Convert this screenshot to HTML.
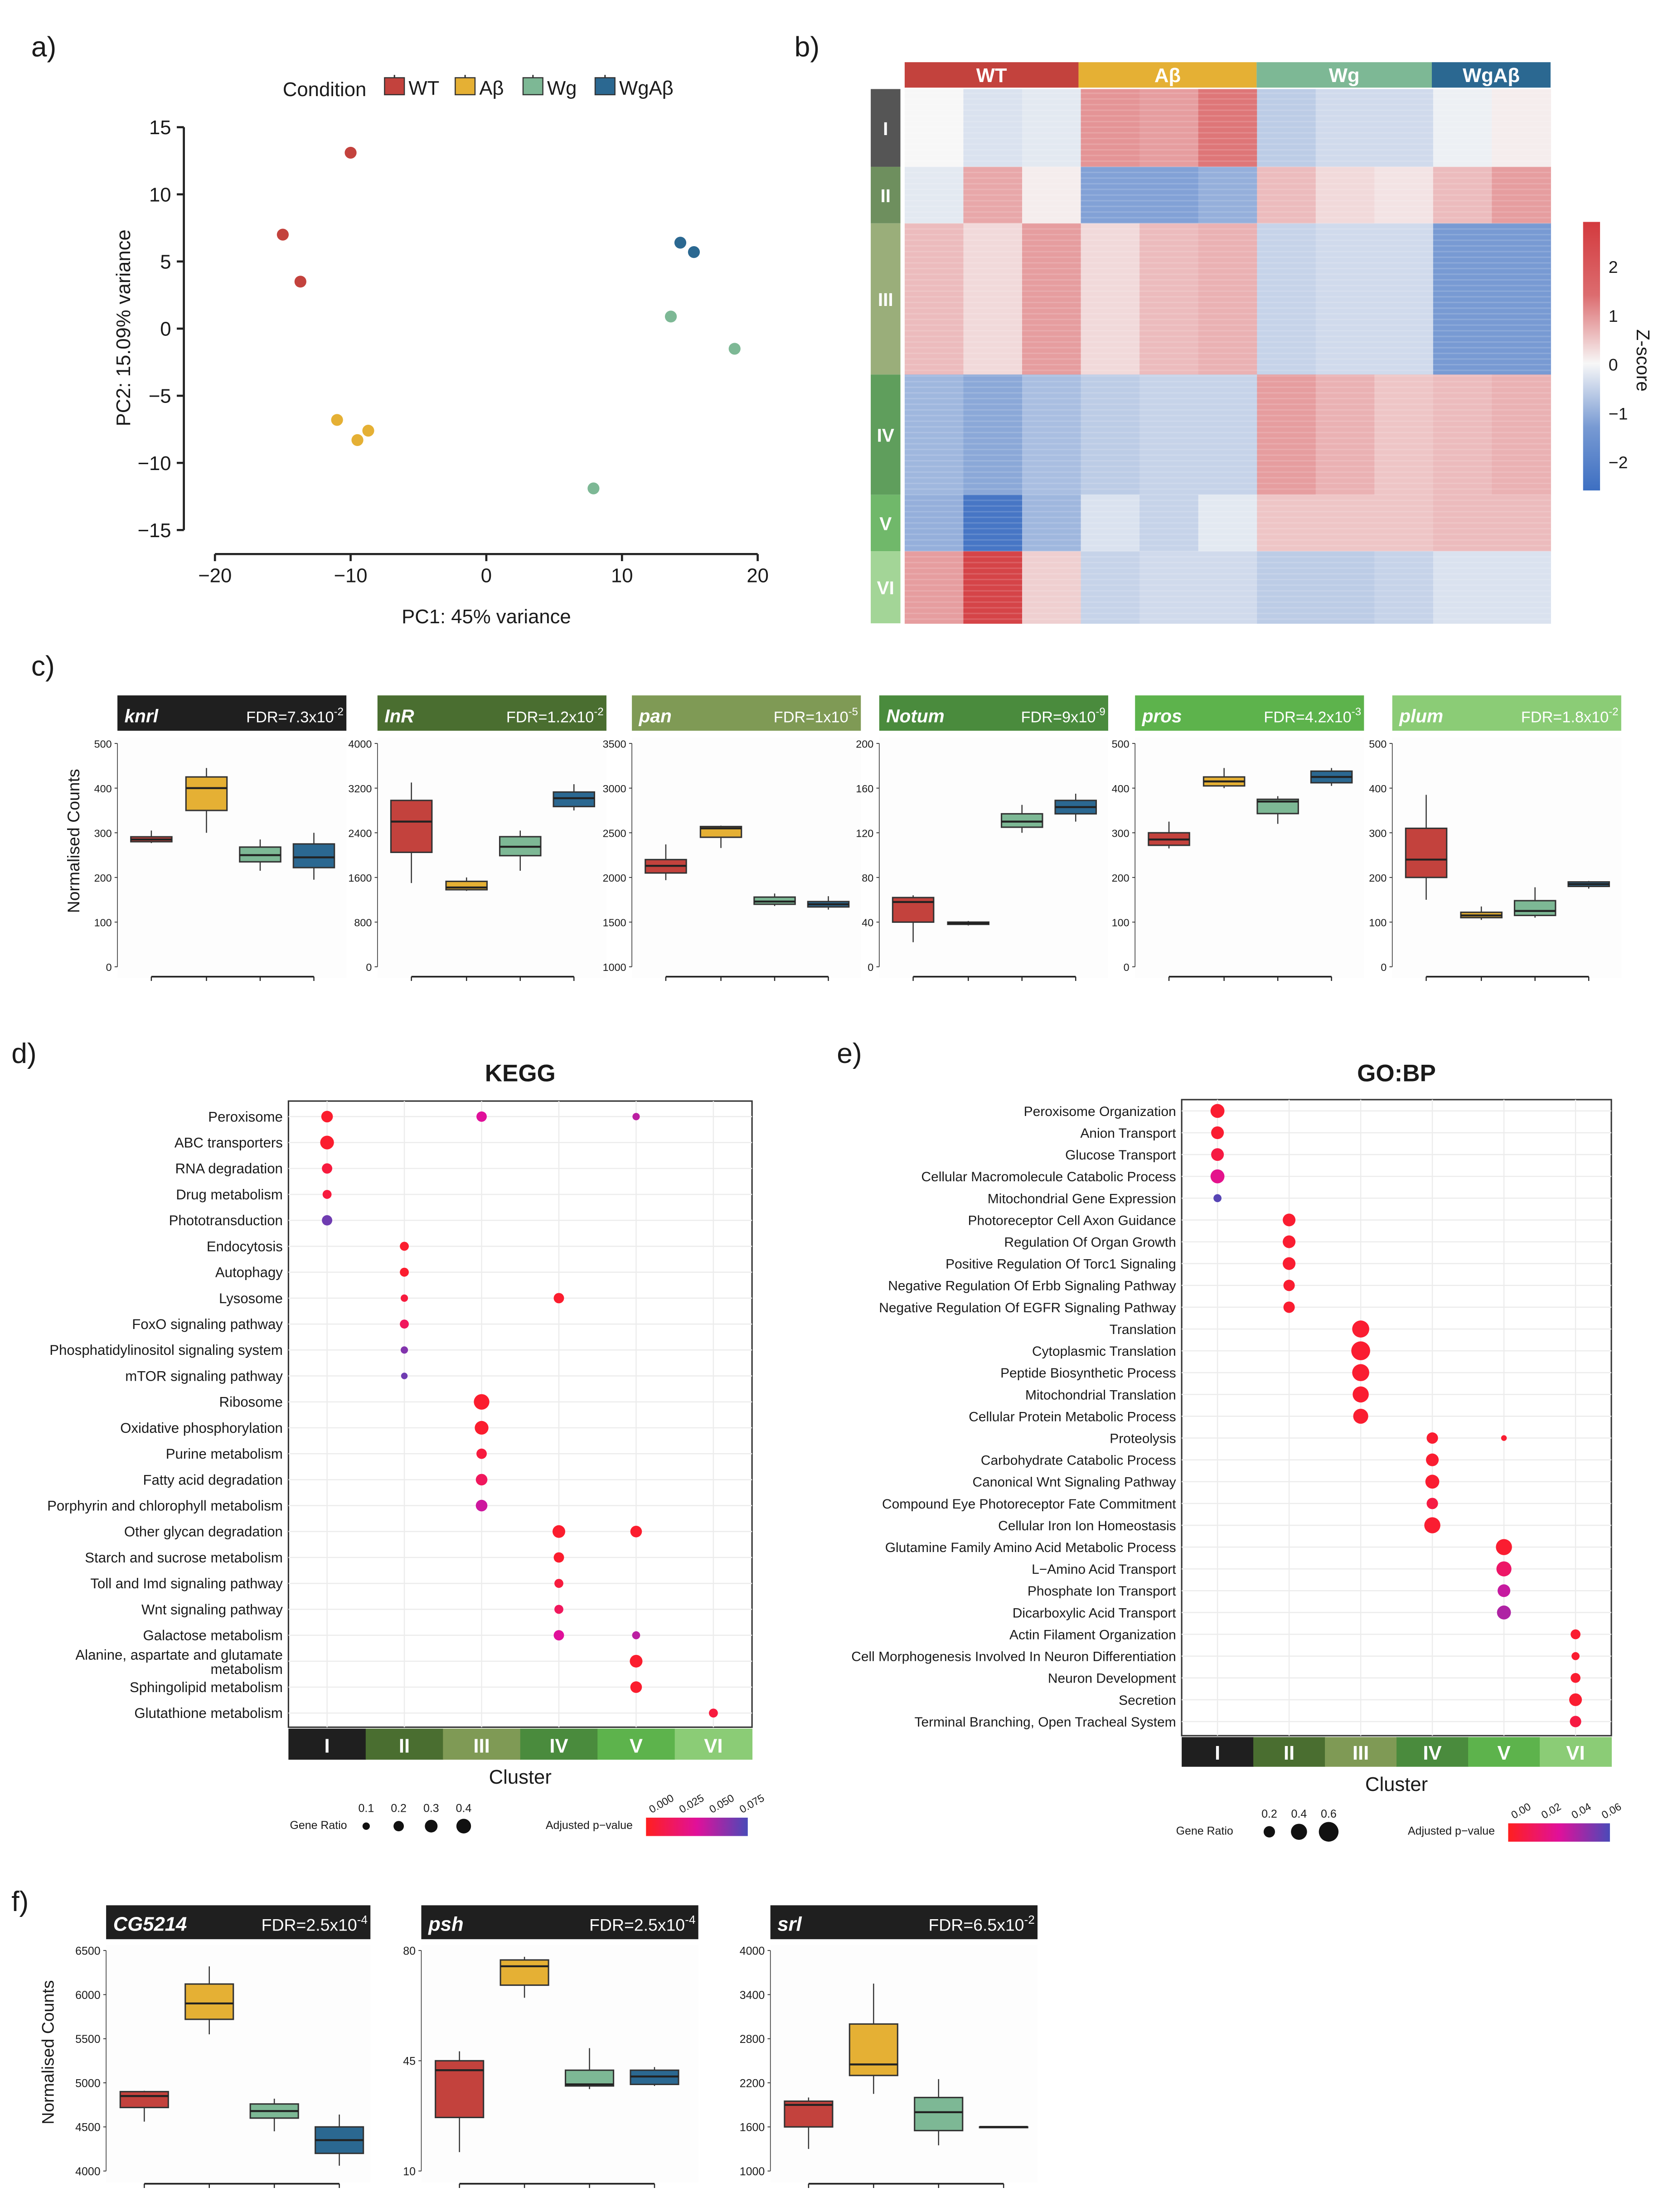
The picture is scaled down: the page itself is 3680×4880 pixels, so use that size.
<!DOCTYPE html>
<html><head><meta charset="utf-8"><style>
html,body{margin:0;padding:0;background:#fff;}
svg{display:block;font-family:"Liberation Sans",Arial,sans-serif;}
</style></head><body>
<svg id="fig" xmlns="http://www.w3.org/2000/svg" width="3680" height="4880" viewBox="0 0 1180 1565"></svg>
<script>
// ---------- DATA ----------
const condNames=["WT","Aβ","Wg","WgAβ"];
const condColors=["#c3423d","#e5b034","#7db895","#2b6891"];
// panel a PCA
const pcaCond=[0,0,0,1,1,1,2,2,2,3,3];
const pcaX=[-10,-15,-13.7,-11,-9.5,-8.7,13.6,18.3,7.9,14.3,15.3];
const pcaY=[13.1,7,3.5,-6.8,-8.3,-7.6,0.9,-1.5,-11.9,6.4,5.7];
const pcaXTicks=[-20,-10,0,10,20];
const pcaYTicks=[15,10,5,0,-5,-10,-15];
// panel b heatmap
const hmClusters=["I","II","III","IV","V","VI"];
const hmColCond=[0,0,0,1,1,1,2,2,2,3,3];
const hmValues=[
[0,-0.3,-0.2,1,0.9,1.3,-0.6,-0.4,-0.4,-0.1,0.1],
[-0.2,0.8,0.1,-1.2,-1.2,-1.0,0.6,0.3,0.2,0.6,0.9],
[0.6,0.3,0.9,0.3,0.6,0.7,-0.5,-0.4,-0.4,-1.3,-1.3],
[-0.9,-1.1,-0.8,-0.6,-0.5,-0.5,0.9,0.7,0.5,0.6,0.7],
[-1,-1.8,-0.9,-0.3,-0.5,-0.2,0.5,0.5,0.5,0.6,0.6],
[0.9,1.8,0.4,-0.5,-0.4,-0.4,-0.6,-0.6,-0.5,-0.3,-0.3]];
const hmClusterSizes=[55,40,107,85,40,51];
const zTicks=[2,1,0,-1,-2];
// panel c
const cGenes=["knrl","InR","pan","Notum","pros","plum"];
const cFDR=[["7.3","-2"],["1.2","-2"],["1","-5"],["9","-9"],["4.2","-3"],["1.8","-2"]];
const cRanges=[[0,500],[0,4000],[1000,3500],[0,200],[0,500],[0,500]];
const cTicks=[[0,100,200,300,400,500],[0,800,1600,2400,3200,4000],[1000,1500,2000,2500,3000,3500],[0,40,80,120,160,200],[0,100,200,300,400,500],[0,100,200,300,400,500]];
const cStats=[
[[277,280,285,291,305],[300,350,400,425,445],[215,235,250,268,285],[195,222,245,275,300]],
[[1500,2050,2600,2980,3300],[1360,1380,1420,1530,1600],[1720,1990,2150,2330,2440],[2800,2870,3020,3130,3270]],
[[1970,2050,2130,2200,2370],[2330,2450,2550,2570,2580],[1680,1700,1730,1780,1820],[1640,1670,1700,1730,1790]],
[[22,40,58,62,64],[37,38,39,40,41],[120,125,130,137,145],[130,137,143,149,155]],
[[265,272,285,300,325],[400,405,415,425,445],[320,343,370,375,382],[405,412,425,438,445]],
[[150,200,240,310,385],[105,110,115,122,135],[110,115,125,148,178],[175,180,185,190,192]]];
// panel d KEGG
const keggTerms=["Peroxisome","ABC transporters","RNA degradation","Drug metabolism","Phototransduction","Endocytosis","Autophagy","Lysosome","FoxO signaling pathway","Phosphatidylinositol signaling system","mTOR signaling pathway","Ribosome","Oxidative phosphorylation","Purine metabolism","Fatty acid degradation","Porphyrin and chlorophyll metabolism","Other glycan degradation","Starch and sucrose metabolism","Toll and Imd signaling pathway","Wnt signaling pathway","Galactose metabolism","Alanine, aspartate and glutamate|metabolism","Sphingolipid metabolism","Glutathione metabolism"];
const keggTerm=[0,0,0,1,2,3,4,5,6,7,7,8,9,10,11,12,13,14,15,16,16,17,18,19,20,20,21,22,23];
const keggCluster=[0,2,4,0,0,0,0,1,1,1,3,1,1,1,2,2,2,2,2,3,4,3,3,3,3,4,4,4,5];
const keggRatio=[0.25,0.2,0.1,0.35,0.2,0.15,0.2,0.15,0.15,0.1,0.2,0.15,0.1,0.08,0.45,0.35,0.2,0.25,0.25,0.3,0.25,0.2,0.15,0.15,0.2,0.12,0.3,0.25,0.15];
const keggP=[0.005,0.04,0.05,0.005,0.01,0.01,0.07,0.005,0.005,0.01,0.005,0.02,0.065,0.07,0.005,0.005,0.01,0.02,0.045,0.005,0.005,0.005,0.01,0.02,0.04,0.05,0.005,0.005,0.01];
// panel e GO
const goTerms=["Peroxisome Organization","Anion Transport","Glucose Transport","Cellular Macromolecule Catabolic Process","Mitochondrial Gene Expression","Photoreceptor Cell Axon Guidance","Regulation Of Organ Growth","Positive Regulation Of Torc1 Signaling","Negative Regulation Of Erbb Signaling Pathway","Negative Regulation Of EGFR Signaling Pathway","Translation","Cytoplasmic Translation","Peptide Biosynthetic Process","Mitochondrial Translation","Cellular Protein Metabolic Process","Proteolysis","Carbohydrate Catabolic Process","Canonical Wnt Signaling Pathway","Compound Eye Photoreceptor Fate Commitment","Cellular Iron Ion Homeostasis","Glutamine Family Amino Acid Metabolic Process","L−Amino Acid Transport","Phosphate Ion Transport","Dicarboxylic Acid Transport","Actin Filament Organization","Cell Morphogenesis Involved In Neuron Differentiation","Neuron Development","Secretion","Terminal Branching, Open Tracheal System"];
const goTerm=[0,1,2,3,4,5,6,7,8,9,10,11,12,13,14,15,15,16,17,18,19,20,21,22,23,24,25,26,27,28];
const goCluster=[0,0,0,0,0,1,1,1,1,1,2,2,2,2,2,3,4,3,3,3,3,4,4,4,4,5,5,5,5,5];
const goRatio=[0.3,0.25,0.25,0.3,0.1,0.25,0.25,0.25,0.2,0.2,0.45,0.55,0.45,0.4,0.35,0.2,0.05,0.25,0.3,0.2,0.4,0.4,0.35,0.25,0.3,0.15,0.1,0.15,0.25,0.2];
const goP=[0.005,0.005,0.01,0.03,0.065,0.005,0.005,0.005,0.005,0.005,0.005,0.005,0.005,0.005,0.005,0.005,0.005,0.005,0.005,0.01,0.005,0.005,0.02,0.04,0.045,0.005,0.005,0.005,0.005,0.01];
// panel f
const fGenes=["CG5214","psh","srl"];
const fFDR=[["2.5","-4"],["2.5","-4"],["6.5","-2"]];
const fRanges=[[4000,6500],[10,80],[1000,4000]];
const fTicks=[[4000,4500,5000,5500,6000,6500],[10,45,80],[1000,1600,2200,2800,3400,4000]];
const fStats=[
[[4560,4720,4850,4900,4910],[5550,5720,5900,6120,6320],[4450,4600,4680,4760,4820],[4060,4200,4350,4500,4640]],
[[16,27,42,45,48],[65,69,75,77,78],[36,37,37.5,42,49],[37,37.5,40,42,43]],
[[1300,1600,1900,1950,2000],[2050,2300,2450,3000,3550],[1350,1550,1800,2000,2250],[1600,1600,1600,1600,1600]]];
const clusterColors=["#1f1f1f","#4a6e30","#7f9a55","#4a8b3d","#5db34c","#8bcc76"];
const roman=["I","II","III","IV","V","VI"];

// ---------- HELPERS ----------
const NS="http://www.w3.org/2000/svg";
const svg=document.getElementById("fig");
function mk(tag,attrs,parent){const e=document.createElementNS(NS,tag);for(const k in attrs)e.setAttribute(k,attrs[k]);(parent||svg).appendChild(e);return e;}
function txt(x,y,s,size,attrs,parent){const t=mk("text",Object.assign({x:x,y:y,"font-size":size,fill:"#1a1a1a"},attrs||{}),parent);t.textContent=s;return t;}
function lin(a,b,c,d){return v=>c+(v-a)/(b-a)*(d-c);}
function hex(c){return [parseInt(c.slice(1,3),16),parseInt(c.slice(3,5),16),parseInt(c.slice(5,7),16)];}
function mix(c1,c2,t){const a=hex(c1),b=hex(c2);return "rgb("+a.map((v,i)=>Math.round(v+(b[i]-v)*t)).join(",")+")";}
function zColor(z){return z>=0?mix("#f7f7f7","#d33a3e",Math.min(z/1.9,1)):mix("#f7f7f7","#3d6fc2",Math.min(-z/1.9,1));}
function pColor(p,pmax){const t=Math.min(p/pmax,1);return t<0.5?mix("#ff1f1f","#e0109a",t/0.5):mix("#e0109a","#4a4ab8",(t-0.5)/0.5);}
function panelLetter(x,y,s){const t=txt(x,y,s,20,{});}

// ---------- PANEL A ----------
panelLetter(22,40,"a)");
const ax=lin(-20,20,152,536), ay=lin(-15,15,375,90);
let g=mk("g",{});


txt(200,68,"Condition",14,{},g);
const legX=[272,322,370,421];
condNames.forEach((n,i)=>{
  const r=mk("rect",{x:legX[i],y:55,width:14,height:12,fill:condColors[i],stroke:"#333","stroke-width":0.8},g);
  
  
  mk("line",{x1:legX[i]+7,y1:53,x2:legX[i]+7,y2:55,stroke:"#333"},g);
  const t=txt(legX[i]+17,67,n,14,{},g);
  
  
});
mk("line",{x1:130,y1:ay(15),x2:130,y2:ay(-15),stroke:"#222","stroke-width":1.5},g);
mk("line",{x1:ax(-20),y1:392,x2:ax(20),y2:392,stroke:"#222","stroke-width":1.5},g);
pcaYTicks.forEach(v=>{mk("line",{x1:125,y1:ay(v),x2:130,y2:ay(v),stroke:"#222","stroke-width":1.5},g);txt(121,ay(v)+5,(v<0?"−":"")+Math.abs(v),14,{"text-anchor":"end"},g);});
pcaXTicks.forEach(v=>{mk("line",{x1:ax(v),y1:392,x2:ax(v),y2:397,stroke:"#222","stroke-width":1.5},g);txt(ax(v),412,(v<0?"−":"")+Math.abs(v),14,{"text-anchor":"middle"},g);});
let yt=txt(0,0,"PC2: 15.09% variance",14,{transform:"translate(92,232) rotate(-90)","text-anchor":"middle"},g);


let xt=txt(344,441,"PC1: 45% variance",14,{"text-anchor":"middle"},g);


pcaX.forEach((v,i)=>{
  const c=mk("circle",{cx:ax(v),cy:ay(pcaY[i]),r:4.2,fill:condColors[pcaCond[i]]},g);
  
  
});

// ---------- PANEL B ----------
panelLetter(562,40,"b)");
g=mk("g",{});


const hmX0=640,hmX1=1097,hmY0=63;
const colW=(hmX1-hmX0)/hmColCond.length;
const headSpans=[[640,763],[763,889],[889,1013],[1013,1097]];
condNames.forEach((n,i)=>{
  const r=mk("rect",{x:headSpans[i][0],y:44,width:headSpans[i][1]-headSpans[i][0],height:18,fill:condColors[i]},g);
  
  
  txt((headSpans[i][0]+headSpans[i][1])/2,58,n,14,{"text-anchor":"middle",fill:"#fff","font-weight":"bold"},g);
});
let yy=hmY0;
hmClusters.forEach((cl,ci)=>{
  const h=hmClusterSizes[ci];
  const cb=mk("rect",{x:616,y:yy,width:21,height:h,fill:["#555","#6e8f5e","#9aae7a","#5f9e5c","#70b86a","#a3d597"][ci]},g);
  
  
  txt(626.5,yy+h/2+5,cl,13,{"text-anchor":"middle",fill:"#fff","font-weight":"bold"},g);
  hmValues[ci].forEach((v,j)=>{
    const c=mk("rect",{x:hmX0+j*colW,y:yy,width:colW+0.3,height:h+0.3,fill:zColor(v)},g);
    
    
  });
  yy+=h;
});
for(let y=hmY0+3;y<yy;y+=4){mk("line",{x1:hmX0,y1:y,x2:hmX1,y2:y,stroke:"#ffffff","stroke-opacity":0.15,"stroke-width":1},g);}
const zy=lin(-2.6,2.9,347,157);
const gradDef=mk("defs",{},g);
const lg=mk("linearGradient",{id:"zg",x1:0,y1:1,x2:0,y2:0},gradDef);
[-2.6,-1.3,0,1.4,2.9].forEach(v=>mk("stop",{offset:(v+2.6)/5.5,"stop-color":zColor(v)},lg));
const cbar=mk("rect",{x:1120,y:157,width:12,height:190,fill:"url(#zg)"},g);


zTicks.forEach(v=>txt(1138,zy(v)+5,(v<0?"−":"")+Math.abs(v),12,{},g));
txt(0,0,"Z-score",13,{transform:"translate(1158,255) rotate(90)","text-anchor":"middle"},g);

// ---------- BOX PANEL ----------
function boxPanel(opts){
  const gg=mk("g",{});
  
  
  const hd=mk("rect",{x:opts.hx,y:opts.hy,width:opts.hw,height:opts.hh,fill:opts.hcol},gg);
  
  
  txt(opts.hx+5,opts.hy+opts.hh-6,opts.gene,opts.gfs,{fill:"#fff","font-weight":"bold","font-style":"italic"},gg);
  const ft=txt(opts.hx+opts.hw-2,opts.hy+opts.hh-6,"",opts.ffs,{fill:"#fff","text-anchor":"end"},gg);
  const t1=document.createElementNS(NS,"tspan");t1.textContent="FDR="+opts.fdr[0]+"x10";ft.appendChild(t1);
  const t2=document.createElementNS(NS,"tspan");t2.setAttribute("dy",-5);t2.setAttribute("font-size",opts.ffs*0.7);t2.textContent=opts.fdr[1];ft.appendChild(t2);
  mk("rect",{x:opts.hx,y:opts.py0-4,width:opts.hw,height:opts.py1-opts.py0+12,fill:"#fdfdfd"},gg);
  const sy=lin(opts.range[0],opts.range[1],opts.py1,opts.py0);
  mk("line",{x1:opts.hx,y1:sy(opts.range[0]),x2:opts.hx,y2:sy(opts.range[1]),stroke:"#333","stroke-width":0.5},gg);
  opts.ticks.forEach(v=>{mk("line",{x1:opts.hx-2,y1:sy(v),x2:opts.hx,y2:sy(v),stroke:"#333","stroke-width":0.6},gg);txt(opts.hx-4,sy(v)+3,String(v),opts.tfs,{"text-anchor":"end"},gg);});
  opts.stats.forEach((s,i)=>{
    const cx=opts.hx+opts.cx[i],w=opts.bw;
    mk("line",{x1:cx,y1:sy(s[0]),x2:cx,y2:sy(s[4]),stroke:"#333","stroke-width":0.8},gg);
    const b=mk("rect",{x:cx-w/2,y:sy(s[3]),width:w,height:Math.max(sy(s[1])-sy(s[3]),0.5),fill:condColors[i],stroke:"#333","stroke-width":1},gg);
    
    
    mk("line",{x1:cx-w/2,y1:sy(s[2]),x2:cx+w/2,y2:sy(s[2]),stroke:"#222","stroke-width":1.4},gg);
  });
  mk("line",{x1:opts.hx+opts.cx[0],y1:opts.by,x2:opts.hx+opts.cx[3],y2:opts.by,stroke:"#222","stroke-width":1.2},gg);
  opts.cx.forEach(c=>mk("line",{x1:opts.hx+c,y1:opts.by,x2:opts.hx+c,y2:opts.by+3,stroke:"#222","stroke-width":0.8},gg));
}

// ---------- PANEL C ----------
panelLetter(22,478,"c)");
const cHx=[83,267,447,622,803,985];
cGenes.forEach((gname,i)=>boxPanel({gene:gname,fdr:cFDR[i],hx:cHx[i],hy:492,hw:162,hh:25,hcol:clusterColors[i],gfs:13,ffs:11,py0:526,py1:684,range:cRanges[i],ticks:cTicks[i],tfs:7.5,stats:cStats[i],cx:[24,63,101,139],bw:29,by:691}));
let cy=txt(0,0,"Normalised Counts",12,{transform:"translate(56,595) rotate(-90)","text-anchor":"middle"});



// ---------- DOT PLOT ----------
function dotPlot(o){
  const gg=mk("g",{});
  
  
  txt((o.x0+o.x1)/2,o.titleY,o.title,17,{"text-anchor":"middle","font-weight":"bold"},gg);
  mk("rect",{x:o.x0,y:o.y0,width:o.x1-o.x0,height:o.y1-o.y0,fill:"#fff",stroke:"#333","stroke-width":1},gg);
  const colW=(o.x1-o.x0)/6;
  const cxf=k=>o.x0+colW*(k+0.5);
  const n=o.terms.length;
  const ryf=k=>o.ry0+(o.ry1-o.ry0)*k/(n-1);
  for(let k=0;k<n;k++){mk("line",{x1:o.x0,y1:ryf(k),x2:o.x1,y2:ryf(k),stroke:"#ececec","stroke-width":0.8},gg);}
  for(let k=0;k<6;k++){mk("line",{x1:cxf(k),y1:o.y0,x2:cxf(k),y2:o.y1,stroke:"#ececec","stroke-width":0.8},gg);}
  o.terms.forEach((t,k)=>{
    const parts=t.split("|");
    if(parts.length>1){txt(o.x0-4,ryf(k)-1,parts[0],o.fs,{"text-anchor":"end"},gg);txt(o.x0-4,ryf(k)+9,parts[1],o.fs,{"text-anchor":"end"},gg);}
    else{const tt=txt(o.x0-4,ryf(k)+3.5,t,o.fs,{"text-anchor":"end"},gg);}
  });
  o.tIdx.forEach((ti,i)=>{
    const c=mk("circle",{cx:cxf(o.cl[i]),cy:ryf(ti),r:o.rs*Math.sqrt(o.ratio[i]),fill:pColor(o.p[i],o.pmax)},gg);
    
    
  });
  for(let k=0;k<6;k++){
    const r=mk("rect",{x:o.x0+colW*k,y:o.by0,width:colW+0.3,height:o.by1-o.by0,fill:clusterColors[k]},gg);
    
    
    txt(cxf(k),o.by1-5,roman[k],14,{"text-anchor":"middle",fill:"#fff","font-weight":"bold"},gg);
  }
  txt((o.x0+o.x1)/2,o.by1+17,"Cluster",14,{"text-anchor":"middle"},gg);
  txt(o.lgx,o.lgy,"Gene Ratio",8,{},gg);
  o.lgVals.forEach((v,i)=>{
    const x=o.lgx+o.lgOff+i*o.lgStep;
    mk("circle",{cx:x,cy:o.lgy-2,r:o.rs*Math.sqrt(v),fill:"#111"},gg);
    txt(x,o.lgy-12,String(v),8,{"text-anchor":"middle"},gg);
  });
  txt(o.plx,o.lgy,"Adjusted p−value",8,{},gg);
  const gd=mk("defs",{},gg);
  const lgg=mk("linearGradient",{id:"pg"+o.title.replace(":",""),x1:0,y1:0,x2:1,y2:0},gd);
  [0,0.25,0.5,0.75,1].forEach(t=>mk("stop",{offset:t,"stop-color":pColor(t*o.pmax,o.pmax)},lgg));
  const pb=mk("rect",{x:o.pbx,y:o.lgy-8,width:72,height:13,fill:"url(#pg"+o.title.replace(":","")+")"},gg);
  
  
  o.pTicks.forEach((v,i)=>{const x=o.pbx+4+i*(64/(o.pTicks.length-1));txt(0,0,v,7.5,{transform:"translate("+x+","+(o.lgy-11)+") rotate(-30)"},gg);});
}
panelLetter(8,752,"d)");
dotPlot({title:"KEGG",titleY:765,x0:204,x1:532,y0:779,y1:1222,ry0:790,ry1:1212,terms:keggTerms,tIdx:keggTerm,cl:keggCluster,ratio:keggRatio,p:keggP,pmax:0.08,rs:8.2,fs:10,by0:1223,by1:1245,lgx:205,lgy:1294,lgOff:54,lgStep:23,lgVals:[0.1,0.2,0.3,0.4],plx:386,pbx:457,pTicks:["0.000","0.025","0.050","0.075"]});
panelLetter(592,752,"e)");
dotPlot({title:"GO:BP",titleY:765,x0:836,x1:1140,y0:778,y1:1228,ry0:786,ry1:1218,terms:goTerms,tIdx:goTerm,cl:goCluster,ratio:goRatio,p:goP,pmax:0.068,rs:9,fs:9.6,by0:1229,by1:1250,lgx:832,lgy:1298,lgOff:66,lgStep:21,lgVals:[0.2,0.4,0.6],plx:996,pbx:1067,pTicks:["0.00","0.02","0.04","0.06"]});

// ---------- PANEL F ----------
panelLetter(8,1352,"f)");
const fHx=[75,298,545],fHw=[187,196,189];
fGenes.forEach((gname,i)=>boxPanel({gene:gname,fdr:fFDR[i],hx:fHx[i],hy:1348,hw:fHw[i],hh:24,hcol:"#1f1f1f",gfs:14,ffs:12,py0:1380,py1:1536,range:fRanges[i],ticks:fTicks[i],tfs:8,stats:fStats[i],cx:[27,73,119,165],bw:34,by:1545}));
let fy=txt(0,0,"Normalised Counts",12,{transform:"translate(38,1452) rotate(-90)","text-anchor":"middle"});


</script>
</body></html>
